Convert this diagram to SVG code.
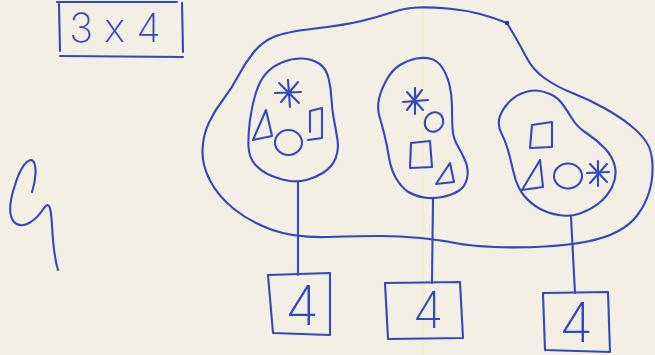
<svg xmlns="http://www.w3.org/2000/svg" width="655" height="355" viewBox="0 0 655 355">
<style>
.ink{fill:none;stroke:#3447bd;stroke-width:2.1;stroke-linecap:round;stroke-linejoin:round}
.txt{fill:#3447bd;font-family:Inter,"Liberation Sans",sans-serif;font-weight:200;font-feature-settings:"calt" 0}
</style>
<rect width="655" height="355" fill="#f4efe4"/>
<line x1="423" y1="0" x2="423" y2="355" stroke="#f3efa8" stroke-width="1"/>
<g id="title">
<path class="ink" d="M57,2 L177,2 M59,4 L60,51 M182,3 L183,52 M60,56 L183,57"/>
<text class="txt" x="115" y="42" font-size="40" text-anchor="middle">3 x 4</text>
</g>
<g id="label-g">
<path class="ink" stroke-width="2.6" d="M32,192 C36,180 37,165 33,161 C28,157 20,168 15,185 C10,200 8,215 14,222 C22,230 35,222 44,208 C50,200 51,210 52,225 C53,245 55,260 58,270"/>
</g>
<g id="set">
<path class="ink" d="M513.5,34 Q520,45 526.5,57.5 Q533,70 545,78.5 Q557,87 573.5,93.5 Q590,100 605,108.5 Q620,117 630,125 Q640,133 646,141.5 Q652,150 652.5,165 Q653,180 649,192.5 Q645,205 637.5,215 Q630,225 617.5,231.5 Q605,238 587.5,241.5 Q570,245 545,246.5 Q520,248 495,247 Q470,246 455,243 Q440,240 420,238 Q400,236 381,236 Q362,236 328.5,237 Q295,238 272.5,230 Q250,222 234,209 Q218,196 210,180.5 Q202,165 202.5,150 Q203,135 209,122.5 Q215,110 223.5,99 Q232,88 238.5,75.5 Q245,63 253.5,52.5 Q262,42 273.5,37 Q285,32 315,28.5 Q345,25 361.5,21 Q378,17 391.5,12.5 Q405,8 417.5,7.5 Q430,7 447.5,8.5 Q465,10 480,14 Q495,18 507,23 L513.5,34 Z"/>
<circle cx="507" cy="23" r="2.2" fill="#2a3a9a"/>
</g>
<g id="subset1">
<path class="ink" d="M306.5,180 Q315,178 323.5,172.5 Q332,167 335.5,158.5 Q339,150 337.5,140 Q336,130 334,120 Q332,110 331.5,99 Q331,88 328.5,78 Q326,68 319,63.5 Q312,59 302.5,58.5 Q293,58 283,62 Q273,66 266.5,73 Q260,80 256,92.5 Q252,105 250,120 Q248,135 248.5,146.5 Q249,158 255.5,165 Q262,172 272,176 Q282,180 290,181 Q298,182 306.5,180 Z"/>
<path class="ink" d="M288,80 L290,107 M275,93 L301,92 M279,83 L299,103 M298,82 L281,102"/>
<path class="ink" d="M266,110 L253,140 L272,136 Z"/>
<ellipse class="ink" cx="288.5" cy="142.5" rx="13.5" ry="12.5"/>
<path class="ink" d="M310,132 L310,111 L322,108 L322,138 L308,140"/>
</g>
<g id="subset2">
<path class="ink" d="M442.5,197 Q452,195 458.5,191 Q465,187 467,178.5 Q469,170 465.5,161.5 Q462,153 457.5,145.5 Q453,138 452.5,128 Q452,118 452,106.5 Q452,95 449.5,85 Q447,75 442.5,68 Q438,61 431.5,59 Q425,57 416.5,58.5 Q408,60 400,65 Q392,70 386.5,80 Q381,90 379,99 Q377,108 379.5,116.5 Q382,125 384.5,135 Q387,145 389,157.5 Q391,170 396.5,179 Q402,188 408.5,192 Q415,196 424,197.5 Q433,199 442.5,197 Z"/>
<path class="ink" d="M415,88 L415,114 M403,102 L428,100 M407,92 L423,110 M422,90 L407,110"/>
<ellipse class="ink" cx="434" cy="122" rx="9" ry="10" transform="rotate(30 434 122)"/>
<path class="ink" d="M411,143 L430,141 L432,167 L410,168 Z"/>
<path class="ink" d="M450,163 L436,184 L454,182 Z"/>
</g>
<g id="subset3">
<path class="ink" d="M580,213.5 Q590,210 598.5,203.5 Q607,197 612,187 Q617,177 615,167 Q613,157 605,148.5 Q597,140 587,133.5 Q577,127 572,118.5 Q567,110 562,103.5 Q557,97 550,94 Q543,91 536.5,90.5 Q530,90 521.5,93.5 Q513,97 506.5,105 Q500,113 499,120 Q498,127 501.5,133.5 Q505,140 507.5,148.5 Q510,157 513.5,172 Q517,187 523.5,195 Q530,203 538.5,208 Q547,213 558.5,215 Q570,217 580,213.5 Z"/>
<path class="ink" d="M532,125 L552,122 L552,147 L530,148 Z"/>
<path class="ink" d="M540,160 L522,190 L543,187 Z"/>
<ellipse class="ink" cx="568" cy="176" rx="14" ry="12.5"/>
<path class="ink" d="M598,161 L598,186 M587,173 L609,172 M590,164 L607,182 M607,164 L590,183"/>
</g>
<g id="connectors">
<path class="ink" d="M298,182 L298,275"/>
<path class="ink" d="M433,199 L432,283"/>
<path class="ink" d="M571,217 L575,293"/>
</g>
<g id="count1">
<path class="ink" d="M268,275 L330,273 L330,335 L273,333 Z"/>
<text class="txt" x="302" y="325" font-size="55" text-anchor="middle">4</text>
</g>
<g id="count2">
<path class="ink" d="M385,283 L460,282 L463,338 L388,339 Z"/>
<text class="txt" x="428" y="328" font-size="50" text-anchor="middle">4</text>
</g>
<g id="count3">
<path class="ink" d="M543,293 L608,292 L610,352 L545,350 Z"/>
<text class="txt" x="576" y="342" font-size="55" text-anchor="middle">4</text>
</g>
</svg>
